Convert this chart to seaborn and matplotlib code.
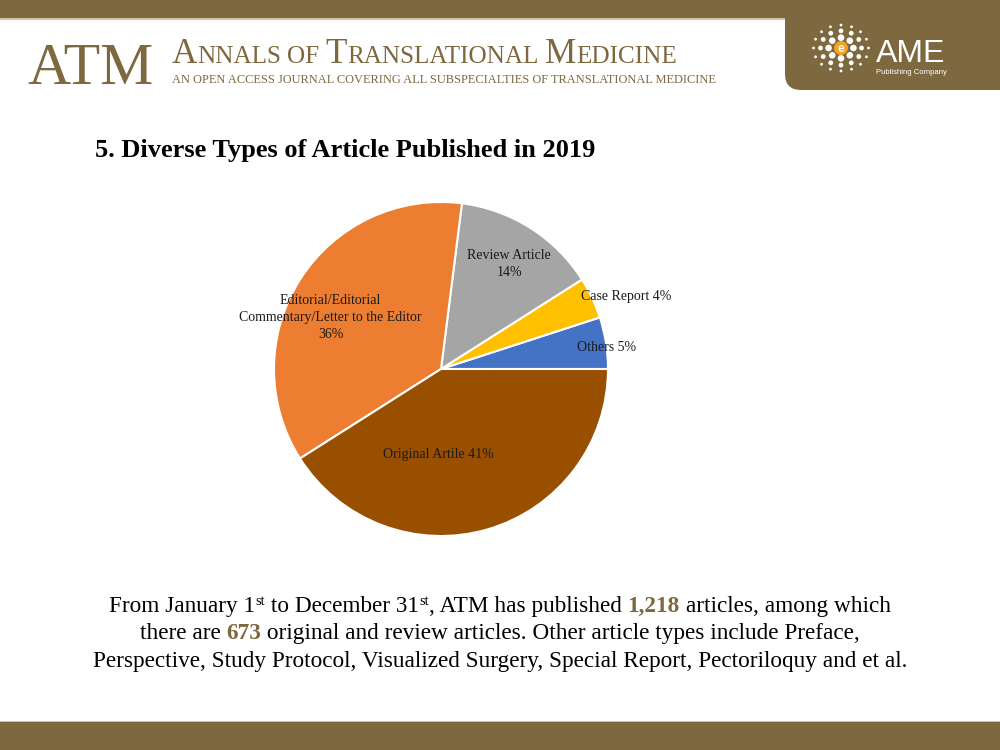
import matplotlib.pyplot as plt
import numpy as np
import seaborn as sns
from matplotlib.patches import Rectangle, FancyBboxPatch, Circle

# data
categories = ["Others", "Case Report", "Review Article",
              "Editorial/Editorial\nCommentary/Letter to the Editor", "Original Artile"]
shares = [5, 4, 14, 36, 41]
title = "5. Diverse Types of Article Published in 2019"
total_articles = "1,218"
orig_review = "673"

pie_colors = ["#4472C4", "#FFC000", "#A5A5A5", "#ED7D31", "#994F00"]
label_sep = [" ", " ", "\n", "\n", " "]
label_r = [1.0, 1.19, 0.75, 0.73, 0.51]
label_dtheta = [-1.5, -3.7, -0.6, 7.4, -18]

BROWN = "#7D683F"
LIGHT = "#cfc6a8"

sns.set_style("white")
plt.rcParams["font.family"] = ["Liberation Serif", "DejaVu Serif"]

fig = plt.figure(figsize=(10, 7.5), dpi=100)
bg = fig.add_axes([0, 0, 1, 1])
bg.set_xlim(0, 1000)
bg.set_ylim(750, 0)
bg.axis("off")


def text_width(s, **kw):
    r = fig.canvas.get_renderer()
    t1 = bg.text(0, 0, "|" + s + "|", **kw)
    t2 = bg.text(0, 0, "||", **kw)
    w = t1.get_window_extent(r).width - t2.get_window_extent(r).width
    t1.remove()
    t2.remove()
    return w


def draw_runs(runs, x, y, align="left", fit=None):
    # runs: (text, size, dy, kwargs)
    widths = [text_width(s, fontsize=sz, **kw) for s, sz, dy, kw in runs]
    scale = 1.0
    if fit is not None:
        scale = fit / sum(widths)
        widths = [text_width(s, fontsize=sz * scale, **kw) for s, sz, dy, kw in runs]
    x0 = x - sum(widths) / 2 if align == "center" else x
    for (s, sz, dy, kw), w in zip(runs, widths):
        bg.text(x0, y - dy * scale, s, fontsize=sz * scale, va="baseline", ha="left", **kw)
        x0 += w
    return scale


# header / footer bands
bg.add_patch(Rectangle((0, 0), 1000, 18, color=BROWN, lw=0))
bg.add_patch(Rectangle((0, 18), 1000, 1.5, color=LIGHT, lw=0))
bg.add_patch(FancyBboxPatch((785, -40), 260, 130, boxstyle="round,pad=0,rounding_size=16",
                            fc=BROWN, ec="none"))
bg.add_patch(Rectangle((0, 720.5), 1000, 1.5, color=LIGHT, lw=0))
bg.add_patch(Rectangle((0, 722), 1000, 28, color=BROWN, lw=0))

# ATM logo
bg.text(27, 84, "ATM", fontsize=43, color=BROWN, va="baseline", ha="left")
head_runs = []
for i, word in enumerate("ANNALS OF TRANSLATIONAL MEDICINE".split()):
    if i:
        head_runs.append((" ", 16.5, 0, dict(color=BROWN)))
    if word == "OF":
        head_runs.append((word, 16.5, 0, dict(color=BROWN)))
    else:
        head_runs.append((word[0], 23, 0, dict(color=BROWN)))
        head_runs.append((word[1:], 16.5, 0, dict(color=BROWN)))
draw_runs(head_runs, 172, 63, fit=505)
draw_runs([("AN OPEN ACCESS JOURNAL COVERING ALL SUBSPECIALTIES OF TRANSLATIONAL MEDICINE",
            8, 0, dict(color=BROWN))], 172, 83, fit=545)

# AME logo
cx, cy = 841, 48
for rad, n, dot in [(11.5, 8, 3.3), (19, 12, 2.4), (25.5, 16, 1.4)]:
    for a in np.linspace(0, 2 * np.pi, n, endpoint=False):
        bg.add_patch(Circle((cx + rad * 1.08 * np.cos(a), cy + rad * 0.9 * np.sin(a)), dot,
                            fc="white", ec="none"))
bg.add_patch(Circle((cx, cy), 7, fc="#F5A21C", ec="none"))
bg.text(cx, cy + 0.5, "e", fontsize=8.5, color="white", weight="bold", ha="center", va="center",
        family="Liberation Sans")
bg.text(876, 62, "AME", fontsize=23, color="white", va="baseline", family="Liberation Sans")
bg.text(876, 74, "Publishing Company", fontsize=5.6, color="white", va="baseline",
        family="Liberation Sans")

# title
draw_runs([(title, 17, 0, dict(weight="bold", color="black"))], 95, 157, fit=500)

# pie
ax = fig.add_axes([0.274, (750 - 536) / 750, 0.334, 334 / 750])
wedges, _ = ax.pie(shares, colors=sns.color_palette(pie_colors), startangle=0, counterclock=True,
                   wedgeprops=dict(edgecolor="white", linewidth=1.5))
ax.set_xlim(-1, 1)
ax.set_ylim(-1, 1)
ax.set_aspect("equal")
for w, name, pct, sep, r, dt in zip(wedges, categories, shares, label_sep, label_r, label_dtheta):
    mid = np.deg2rad((w.theta1 + w.theta2) / 2 + dt)
    ax.text(r * np.cos(mid), r * np.sin(mid), f"{name}{sep}{pct}%", ha="center", va="center",
            fontsize=10, color="#1a1a1a", linespacing=1.4, clip_on=False)

# bottom paragraph
norm = dict(color="black")
bold = dict(color=BROWN, weight="bold")
sup = dict(color="black")
line1 = [("From January 1", 16, 0, norm), ("st", 10, 7, sup), (" to December 31", 16, 0, norm),
         ("st", 10, 7, sup), (", ATM has published ", 16, 0, norm), (total_articles, 16, 0, bold),
         (" articles, among which", 16, 0, norm)]
line2 = [("there are ", 16, 0, norm), (orig_review, 16, 0, bold),
         (" original and review articles. Other article types include Preface,", 16, 0, norm)]
line3 = [("Perspective, Study Protocol, Visualized Surgery, Special Report, Pectoriloquy and et al.",
          16, 0, norm)]
s = draw_runs(line3, 500, 667, align="center", fit=815)
for ln, yy in [(line1, 612), (line2, 639)]:
    draw_runs([(t, sz * s, dy, kw) for t, sz, dy, kw in ln], 500, yy, align="center")

fig.savefig("out.png", dpi=100)
